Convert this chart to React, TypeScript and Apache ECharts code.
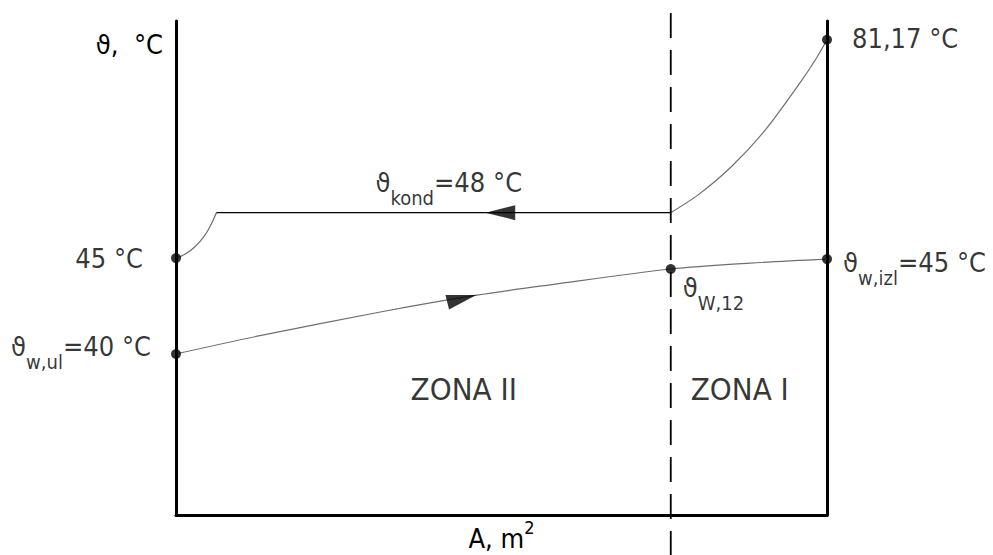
import React, { useEffect, useRef } from "react";
import * as echarts from "echarts";

const FONT = "'DejaVu Sans Condensed', 'Liberation Sans Narrow', 'DejaVu Sans', sans-serif";

// Schematic diagram coordinates: x = share of the exchanger area A (0..100),
// y = ordinate of the (not-to-scale) temperature axis (0..100).
const hotSubcool: number[][] = [[0, 52.0], [1.5, 52.9], [3.0, 54.4], [4.3, 56.4], [5.3, 58.6], [6.2, 61.2]];
const hotCondensation: number[][] = [[6.2, 61.2], [76.0, 61.2]];
const hotSuperheat: number[][] = [[76.0, 61.2], [80.2, 64.8], [85.3, 70.5], [90.5, 77.9], [95.6, 87.0], [98.2, 92.1], [100, 96.2]];
const waterLine: number[][] = [[0, 32.6], [12.9, 36.3], [31.8, 41.2], [46.2, 44.5], [57.5, 46.6], [76.0, 49.8], [88.2, 51.0], [100, 51.8]];
const zoneBoundary: number[][] = [[76.0, 101.6], [76.0, -10.1]];
const statePoints: number[][] = [[0, 52.0], [0, 32.6], [76.0, 49.8], [100, 51.8], [100, 96.2]];
const stateLabels: string[] = [
  "45 °C",
  "{m|ϑ}{s|w,ul}{m|=40 °C}",
  "{m|ϑ}{s|W,12}",
  "{m|ϑ}{s|w,izl}{m|=45 °C}",
  "81,17 °C",
];
const flowArrows: number[][] = [[49.8, 61.2], [43.9, 43.8]];
const flowDirections: number[] = [90, -76];
const zoneNames: string[] = ["ZONA II", "ZONA I"];
const zoneNamePoints: number[][] = [[44.2, 25.5], [86.6, 25.5]];
const condensationLabel = "{m|ϑ}{s|kond}{m|=48 °C}";
const condensationLabelPoint: number[] = [41.9, 61.2];
const yAxisName = "ϑ,  °C";
const xAxisName = "A, m{sup|2}";

export default function App() {
  const ref = useRef<HTMLDivElement>(null);

  useEffect(() => {
    const chart = echarts.init(ref.current!, null, { renderer: "svg" });
    const main = { fontFamily: FONT, fontSize: 27, lineHeight: 51, color: "#000" };
    const sub = { fontFamily: FONT, fontSize: 20, lineHeight: 20, verticalAlign: "bottom", color: "#000" };
    const rich = { m: main, s: sub };
    const axisLine = { show: true, onZero: false, lineStyle: { color: "#000", width: 3 } };
    const placement: any[] = [
      { position: "left", distance: 28, offset: [0, 0] },
      { position: "left", distance: 20, offset: [0, -7] },
      { position: "right", distance: 7, offset: [0, 19] },
      { position: "right", distance: 11, offset: [0, 3] },
      { position: "right", distance: 20, offset: [0, -1] },
    ];
    const grayLine = { color: "#6f6f6f", width: 1.2 };

    chart.setOption({
      animation: false,
      textStyle: { fontFamily: FONT },
      grid: { left: 176, right: 166, top: 21, bottom: 40, outerBoundsMode: "none", containLabel: false },
      xAxis: {
        type: "value",
        min: 0,
        max: 100,
        axisLine,
        axisTick: { show: false },
        axisLabel: { show: false },
        splitLine: { show: false },
        name: xAxisName,
        nameLocation: "middle",
        nameGap: 3,
        nameTextStyle: {
          fontFamily: FONT,
          fontSize: 27,
          lineHeight: 40,
          color: "#000",
          verticalAlign: "top",
          rich: { sup: { fontFamily: FONT, fontSize: 18, lineHeight: 18, verticalAlign: "top", color: "#000" } },
        },
      },
      yAxis: [
        {
          type: "value",
          min: 0,
          max: 100,
          position: "left",
          axisLine,
          axisTick: { show: false },
          axisLabel: { show: false },
          splitLine: { show: false },
          name: yAxisName,
          nameLocation: "end",
          nameGap: -23,
          nameTextStyle: {
            fontFamily: FONT,
            fontSize: 27,
            color: "#000",
            align: "right",
            verticalAlign: "middle",
            padding: [0, 13, 0, 0],
          },
        },
        {
          type: "value",
          min: 0,
          max: 100,
          position: "right",
          axisLine,
          axisTick: { show: false },
          axisLabel: { show: false },
          splitLine: { show: false },
        },
      ],
      series: [
        {
          type: "line",
          data: hotSubcool,
          smooth: 0.5,
          symbol: "none",
          lineStyle: grayLine,
          silent: true,
        },
        {
          type: "line",
          data: hotCondensation,
          symbol: "none",
          lineStyle: { color: "#000", width: 1.4 },
          silent: true,
        },
        {
          type: "line",
          data: hotSuperheat,
          smooth: 0.3,
          symbol: "none",
          lineStyle: grayLine,
          silent: true,
        },
        {
          type: "line",
          data: waterLine,
          smooth: 0.3,
          symbol: "none",
          lineStyle: grayLine,
          silent: true,
        },
        {
          type: "line",
          data: zoneBoundary,
          symbol: "none",
          clip: false,
          lineStyle: { color: "#000", width: 1.8, type: [25, 12] },
          silent: true,
        },
        {
          type: "scatter",
          data: flowArrows.map((p, i) => ({ value: p, symbolRotate: flowDirections[i] })),
          symbol: "triangle",
          symbolSize: [15, 30],
          itemStyle: { color: "#000" },
          silent: true,
          z: 4,
        },
        {
          type: "scatter",
          data: statePoints.map((p, i) => ({
            value: p,
            label: { show: true, formatter: stateLabels[i], ...placement[i] },
          })),
          symbol: "circle",
          symbolSize: 10,
          itemStyle: { color: "#000" },
          label: { show: true, fontFamily: FONT, fontSize: 27, color: "#000", rich },
          silent: true,
          z: 5,
        },
        {
          type: "scatter",
          data: [
            ...zoneNames.map((n, i) => ({
              value: zoneNamePoints[i],
              label: { show: true, formatter: n, fontSize: 31, position: "inside", offset: [0, 0] },
            })),
            {
              value: condensationLabelPoint,
              label: { show: true, formatter: condensationLabel, position: "inside", offset: [0, -30] },
            },
          ],
          symbolSize: 1,
          itemStyle: { color: "rgba(0,0,0,0)" },
          label: { show: true, fontFamily: FONT, fontSize: 27, color: "#000", rich },
          silent: true,
          z: 5,
        },
      ],
    });
    return () => chart.dispose();
  }, []);

  return (
    <div
      ref={ref}
      style={{ position: "fixed", left: 0, top: 0, width: 993, height: 555, background: "#fff" }}
    />
  );
}
